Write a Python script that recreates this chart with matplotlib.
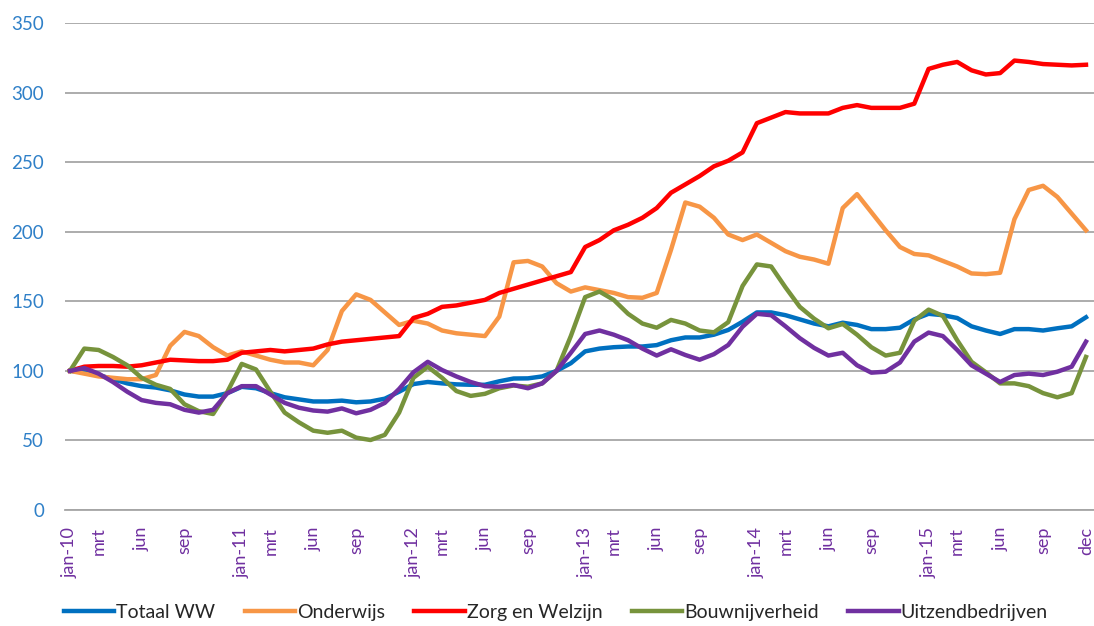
import matplotlib
matplotlib.use("Agg")
import matplotlib.pyplot as plt
import numpy as np

plt.rcParams['font.family'] = ['Lato', 'DejaVu Sans']

tick_positions = [0, 2, 5, 8, 12, 14, 17, 20, 24, 26, 29, 32, 36, 38, 41, 44,
                  48, 50, 53, 56, 60, 62, 65, 68, 71]
tick_labels = ['jan-10', 'mrt', 'jun', 'sep', 'jan-11', 'mrt', 'jun', 'sep',
               'jan-12', 'mrt', 'jun', 'sep', 'jan-13', 'mrt', 'jun', 'sep',
               'jan-14', 'mrt', 'jun', 'sep', 'jan-15', 'mrt', 'jun', 'sep', 'dec']

totaal_ww = [100, 99, 97, 94, 91, 89, 88, 86, 83, 81.5, 81.5, 84,
             88.5, 87.5, 84, 81, 79.5, 78, 78, 78.6, 77.4, 78, 80, 85,
             90.5, 92, 91, 90.3, 90, 90, 92.5, 94.5, 94.6, 96, 100, 105.5,
             114, 116, 117, 117.5, 117.5, 118.5, 122, 124, 124, 126, 129.4, 135.3,
             142, 142, 140, 137, 134, 132, 134.6, 133, 130, 130, 131, 137,
             141, 140, 138, 132, 129, 126.5, 130, 130, 129, 130.6, 132, 138.5]

onderwijs = [100, 98, 96, 95, 94, 94, 97, 118, 128, 125, 117, 111,
             114, 111, 108, 106, 106, 104, 115, 143, 155, 151, 142, 133,
             136, 134, 129, 127, 126, 125, 139, 178, 179, 175, 163, 157,
             160, 158, 156, 153, 152.5, 156, 187, 221, 218, 210, 198, 194,
             198, 192, 186, 182, 180, 177, 217, 227, 214, 201, 189, 184,
             183, 179, 175, 170, 169.5, 170.5, 209, 230, 233, 225, 213, 201]

zorg_welzijn = [100, 103, 103.5, 103.5, 103, 104, 106, 108, 107.5, 107, 107, 108,
                113, 114, 115, 114, 115, 116, 119, 121, 122, 123, 124, 125,
                138, 141, 146, 147, 149, 151, 156, 159, 162, 165, 168, 171,
                189, 194, 201, 205, 210, 217, 228, 234, 240, 247, 251, 257,
                278, 282, 286, 285, 285, 285, 289, 291, 289, 289, 289, 292,
                317, 320, 322, 316, 313, 314, 323, 322, 320.5, 320, 319.5, 320]

bouwnijverheid = [100, 116, 115, 110, 104, 95, 90, 87, 76, 71, 69, 85,
                  105, 101, 85, 70, 63, 57, 55.5, 57, 52, 50.3, 54, 70,
                  95, 103, 95, 85.5, 82, 83.5, 87.5, 89.5, 88.6, 91, 100, 125,
                  153, 157, 151, 141, 134, 131, 136.6, 134, 129, 127.7, 135, 161,
                  176.5, 175, 160, 146, 137.5, 130.6, 133.7, 126, 117, 111, 113, 136,
                  144, 139.5, 122, 106.5, 99, 91, 91, 89, 84, 81, 84, 110]

uitzendbedrijven = [100, 102, 98, 92, 85, 79, 77, 76, 72, 70, 72, 84,
                    89, 89, 83, 77, 73.5, 71.5, 70.7, 73, 69.5, 72, 77, 87,
                    99, 106.5, 100.6, 96, 92, 89, 88.6, 89.8, 87.5, 91, 100, 113,
                    126.5, 129, 126, 122, 116, 111, 115.5, 111.4, 108, 112, 118.6, 131.7,
                    141, 140, 132, 123.5, 116.5, 111, 113, 104, 98.7, 99.4, 106, 121,
                    127.5, 125, 115, 104, 98, 92, 97, 98, 97, 99.4, 103, 121]

series = [
    ('Totaal WW', totaal_ww, '#0070C0'),
    ('Onderwijs', onderwijs, '#F79646'),
    ('Zorg en Welzijn', zorg_welzijn, '#FF0000'),
    ('Bouwnijverheid', bouwnijverheid, '#77933C'),
    ('Uitzendbedrijven', uitzendbedrijven, '#7030A0'),
]

fig = plt.figure(figsize=(10.94, 6.26), dpi=100)
ax = fig.add_axes([65 / 1094, (626 - 510) / 626, (1094 - 65) / 1094, 487 / 626])

x = np.arange(len(totaal_ww))
for name, vals, col in series:
    ax.plot(x, vals, color=col, lw=3.2, label=name, solid_joinstyle='round', zorder=3)

ax.set_ylim(0, 350)
ax.set_xlim(-0.35, 71.56)
ax.set_yticks(np.arange(0, 351, 50))
ax.yaxis.grid(True, color='#A6A6A6', lw=1.3, zorder=0)
ax.set_axisbelow(True)
for s in ['top', 'right', 'left']:
    ax.spines[s].set_visible(False)
ax.spines['bottom'].set_color('#A6A6A6')
ax.spines['bottom'].set_linewidth(1.3)

ax.set_xticks(tick_positions)
ax.set_xticklabels(tick_labels, rotation=90, color='#7030A0', fontsize=13)
ax.tick_params(axis='x', length=0, pad=12)
ax.tick_params(axis='y', length=0, pad=15, labelcolor='#2F80C8', labelsize=13.5)

leg = fig.legend(loc='center', bbox_to_anchor=(0.508, 0.022), ncol=5, frameon=False,
                 fontsize=14, handlelength=2.6, handletextpad=0.1, columnspacing=1.5)
for t in leg.get_texts():
    t.set_color('#262626')

fig.savefig('out.png', dpi=100)
